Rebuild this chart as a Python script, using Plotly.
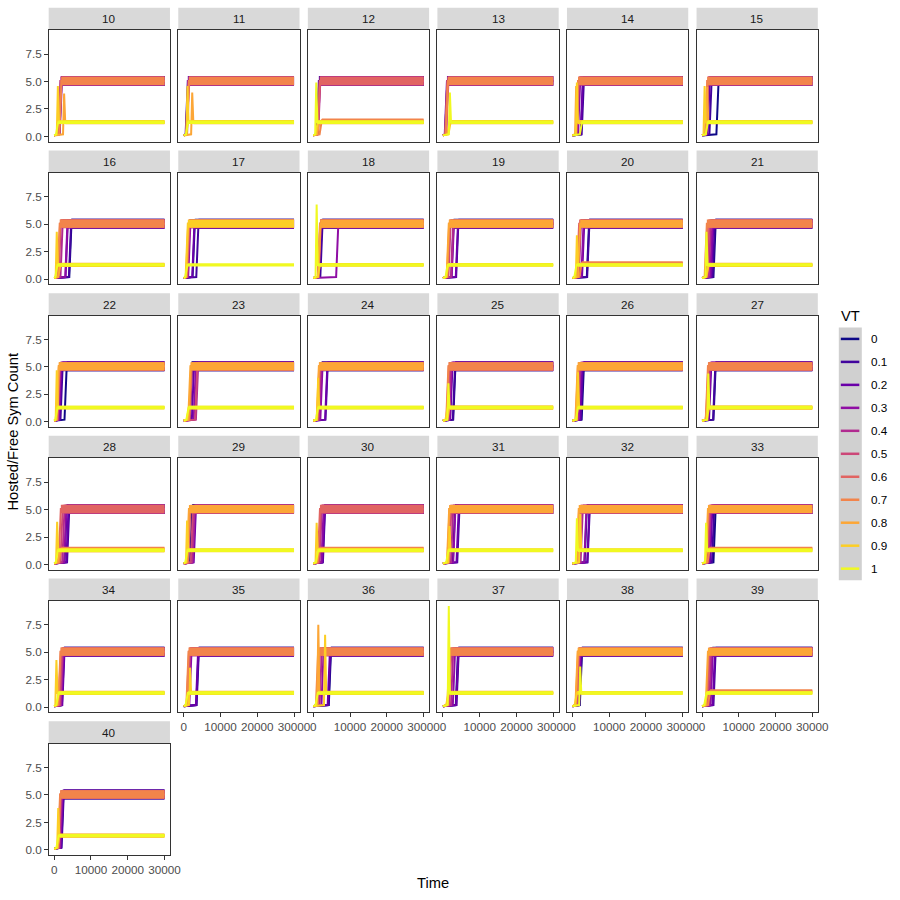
import plotly.graph_objects as go

# ---------------- data ----------------
SEEDS = list(range(10, 41))
VT = [0.0, 0.1, 0.2, 0.3, 0.4, 0.5, 0.6, 0.7, 0.8, 0.9, 1.0]
VT_LABELS = ["0", "0.1", "0.2", "0.3", "0.4", "0.5", "0.6", "0.7", "0.8", "0.9", "1"]
VT_COLORS = ["#0D0887", "#41049D", "#6A00A8", "#8F0DA4", "#B12A90", "#CC4778",
             "#E16462", "#F2844B", "#FCA636", "#FCCE25", "#F0F921"]

TIME_END = 30000
START_LEVEL = 0.1
PRE_RISE_LEVEL = 0.2
LEVELS = {"H": 5.05, "M": 1.48, "L": 1.3}

# time at which each VT line jumps to its plateau (per seed, VT 0 .. 1)
RISE_TIMES = [
    [1700, 1600, 1500, 1800, 1400, 1600, 1500, 1700, 2700, 1000, 800],   # 10
    [900, 800, 1000, 900, 1100, 1000, 1200, 1100, 2300, 1000, 900],      # 11
    [1300, 1200, 1400, 1500, 1600, 1400, 1500, 2000, 1300, 900, 800],    # 12
    [1000, 900, 800, 1100, 1000, 1200, 900, 1100, 1500, 1800, 1900],     # 13
    [2600, 2800, 2500, 1800, 1500, 1400, 1300, 1200, 1000, 1200, 2300],  # 14
    [4200, 2300, 1800, 1500, 1400, 1200, 1300, 1100, 1400, 700, 1300],   # 15
    [4400, 4300, 3400, 3300, 2000, 1500, 1300, 1200, 1400, 700, 600],    # 16
    [2700, 3700, 2600, 1500, 1300, 1200, 1100, 1000, 900, 800, 700],     # 17
    [2000, 2200, 1800, 6500, 1700, 1600, 1500, 1700, 1600, 1500, 900],   # 18
    [2600, 3900, 3800, 2700, 2500, 1800, 1500, 1400, 1300, 1200, 1000],  # 19
    [4200, 4300, 2900, 2700, 2000, 1800, 1500, 2200, 1800, 1200, 800],   # 20
    [3400, 3200, 2800, 2500, 2100, 1700, 1300, 1000, 1500, 1400, 1200],  # 21
    [3100, 2000, 1700, 1500, 1300, 1200, 1100, 1000, 900, 700, 600],     # 22
    [1800, 2000, 2500, 3000, 3600, 3400, 1900, 1700, 1500, 1100, 1000],  # 23
    [2000, 3600, 3500, 2200, 1800, 1500, 1400, 1300, 1200, 1300, 1000],  # 24
    [3100, 3000, 2300, 2100, 1900, 1500, 1300, 1200, 1500, 1000, 1500],  # 25
    [2800, 2600, 2400, 2000, 1800, 1500, 1300, 1200, 1100, 1500, 1200],  # 26
    [3400, 3300, 2200, 2000, 1800, 1500, 1400, 1300, 1200, 1600, 1700],  # 27
    [3100, 3800, 3600, 3000, 2500, 2000, 1500, 1600, 1200, 800, 700],    # 28
    [2000, 2500, 3000, 2800, 2600, 2200, 1500, 1300, 1100, 900, 700],    # 29
    [2700, 2900, 2800, 2500, 2000, 1800, 1500, 1400, 1100, 900, 1000],   # 30
    [3000, 4200, 4000, 3100, 2500, 2000, 1600, 1500, 1400, 1800, 1200],  # 31
    [3600, 4400, 4300, 3500, 2500, 2000, 1800, 1500, 1400, 2100, 1200],  # 32
    [3400, 3000, 2500, 2200, 2000, 1700, 1500, 1800, 1300, 1000, 1100],  # 33
    [2400, 2300, 2500, 2200, 2000, 1800, 1500, 1400, 1000, 600, 900],    # 34
    [3700, 3800, 3600, 1800, 1500, 1300, 1100, 1000, 1200, 1700, 800],   # 35
    [4500, 4400, 4200, 2500, 2000, 1500, 1200, 1000, 1350, 3200, 900],   # 36
    [3800, 4000, 3900, 3000, 2500, 2000, 1700, 1500, 1300, 1200, 1600],  # 37
    [2300, 2200, 2000, 1800, 1600, 1500, 1300, 1200, 1100, 900, 2100],   # 38
    [2500, 3400, 3200, 2600, 2200, 1800, 1500, 1900, 1300, 1100, 900],   # 39
    [2200, 2300, 2100, 1900, 1700, 1500, 1400, 1300, 1200, 1100, 900],   # 40
]

# plateau reached by each VT line: H ~5, M ~1.5, L ~1.3
PLATEAU_CODES = [
    "HHHHHHHHLLL", "HHHHHHHHLLL", "HHHHHHHMLLL", "HHHHHHHHLLL", "HHHHHHHHLLL", "HHHHHHHHLLL",
    "HHHHHHHHLLL", "HHHHHHHHHHL", "HHHHHHHHHLL", "HHHHHHHHHLL", "HHHHHHHMHLL", "HHHHHHHHLLL",
    "HHHHHHHHHLL", "HHHHHHHHHLL", "HHHHHHHHHLL", "HHHHHHHHLLL", "HHHHHHHHHLL", "HHHHHHHHLLL",
    "HHHHHHHMLLL", "HHHHHHHHHLL", "HHHHHHHMLLL", "HHHHHHHHHLL", "HHHHHHHHHLL", "HHHHHHHMHLL",
    "HHHHHHHHLLL", "HHHHHHHHLLL", "HHHHHHHHLLL", "HHHHHHHHLLL", "HHHHHHHHHLL", "HHHHHHHMHLL",
    "HHHHHHHHLLL",
]

# transient overshoots at the jump
SPIKE_SEEDS = [10, 10, 11, 11, 12, 13, 14, 14, 15, 15, 16, 18, 20, 21, 22, 24, 25, 26, 27,
               28, 29, 30, 31, 32, 32, 33, 34, 35, 36, 36, 37, 38, 40]
SPIKE_VT = [0.9, 0.8, 0.9, 0.8, 1.0, 1.0, 0.8, 0.9, 0.9, 0.8, 0.9, 1.0, 0.9, 1.0, 0.9, 0.9, 1.0,
            0.9, 1.0, 0.9, 0.9, 0.9, 0.9, 0.9, 1.0, 1.0, 0.9, 0.9, 0.8, 0.9, 1.0, 1.0, 0.9]
SPIKE_PEAKS = [4.6, 3.9, 4.6, 4.0, 4.9, 4.0, 4.6, 4.9, 4.6, 4.5, 4.3, 6.8, 4.0, 4.3, 4.7, 4.0, 3.5,
               4.5, 4.4, 3.9, 4.0, 3.8, 3.5, 4.6, 4.2, 3.8, 4.3, 3.6, 7.5, 6.6, 9.2, 3.7, 3.8]

X_TICKS = [0, 10000, 20000, 30000]
X_TICK_LABELS = ["0", "10000", "20000", "30000"]
Y_TICKS = [0, 2.5, 5, 7.5]
Y_TICK_LABELS = ["0.0", "2.5", "5.0", "7.5"]
X_RANGE = [-1500, 31500]
Y_RANGE = [-0.46, 9.66]

# ---------------- geometry (pixels) ----------------
FIG = 900
FIG_W_EFF = 889.2   # rendered horizontal extent of the paper
NCOL = 6
PANEL_LEFT0, COL_PITCH, PANEL_W = 48.7, 129.6, 121.3
PANEL_TOP0, ROW_PITCH, PANEL_H = 30.3, 142.85, 111.4
STRIP_H = 22.5
RAMP = 300
FONT = "Liberation Sans, Arial, sans-serif"


def px(x):
    return x / FIG_W_EFF


def py(y):
    return 1 - y / FIG


spikes = {(s, v): pk for s, v, pk in zip(SPIKE_SEEDS, SPIKE_VT, SPIKE_PEAKS)}

fig = go.Figure()
shapes = []
annotations = []
layout_axes = {}

for p, seed in enumerate(SEEDS):
    row, col = divmod(p, NCOL)
    n = p + 1
    xref = "x" if n == 1 else f"x{n}"
    yref = "y" if n == 1 else f"y{n}"
    L = PANEL_LEFT0 + col * COL_PITCH
    T = PANEL_TOP0 + row * ROW_PITCH
    codes = PLATEAU_CODES[p]

    for i, vt in enumerate(VT):
        r = RISE_TIMES[p][i]
        level = LEVELS[codes[i]]
        peak = spikes.get((seed, vt))
        if peak is not None:
            xs = [0, r - RAMP, r, r + RAMP, TIME_END]
            ys = [START_LEVEL, PRE_RISE_LEVEL, peak, level, level]
        else:
            xs = [0, r - RAMP, r + RAMP, TIME_END]
            ys = [START_LEVEL, PRE_RISE_LEVEL, level, level]
        if codes[i] == "H":
            w = 10.0 - 0.25 * i
        elif codes[i] == "M":
            w = 3.2
        else:
            w = 4.2 - 0.4 * max(0, i - 8)
        fig.add_trace(go.Scatter(x=[r + RAMP, TIME_END], y=[level, level], mode="lines",
                                 line=dict(color=VT_COLORS[i], width=w),
                                 xaxis=xref, yaxis=yref, showlegend=False, hoverinfo="skip"))
        fig.add_trace(go.Scatter(x=xs, y=ys, mode="lines",
                                 line=dict(color=VT_COLORS[i], width=2),
                                 xaxis=xref, yaxis=yref, showlegend=False, name=VT_LABELS[i]))

    show_x = (row == 4 and col >= 1) or row == 5
    show_y = col == 0
    common = dict(showline=True, mirror=True, linecolor="#333333", linewidth=1,
                  showgrid=False, zeroline=False, ticklen=3.7, tickwidth=1,
                  tickcolor="#333333",
                  tickfont=dict(size=11.7, color="#4D4D4D", family=FONT))
    xkey = "xaxis" if n == 1 else f"xaxis{n}"
    ykey = "yaxis" if n == 1 else f"yaxis{n}"
    layout_axes[xkey] = dict(common, domain=[px(L), px(L + PANEL_W)], range=X_RANGE,
                             anchor=yref, tickvals=X_TICKS, ticktext=X_TICK_LABELS,
                             ticks="outside" if show_x else "", showticklabels=show_x)
    layout_axes[ykey] = dict(common, domain=[py(T + PANEL_H), py(T)], range=Y_RANGE,
                             anchor=xref, tickvals=Y_TICKS, ticktext=Y_TICK_LABELS,
                             ticks="outside" if show_y else "", showticklabels=show_y)

    # strip
    shapes.append(dict(type="rect", xref="paper", yref="paper",
                       x0=px(L), x1=px(L + PANEL_W), y0=py(T - 0.6), y1=py(T - STRIP_H),
                       fillcolor="#D9D9D9", line=dict(width=0), layer="below"))
    annotations.append(dict(xref="paper", yref="paper", x=px(L + PANEL_W / 2),
                            y=py(T - STRIP_H / 2 - 0.3), text=str(seed), showarrow=False,
                            xanchor="center", yanchor="middle",
                            font=dict(size=11.7, color="#1A1A1A", family=FONT)))

# axis titles
annotations.append(dict(xref="paper", yref="paper", x=px(433), y=py(884), text="Time",
                        showarrow=False, xanchor="center", yanchor="middle",
                        font=dict(size=14.7, color="#000000", family=FONT)))
annotations.append(dict(xref="paper", yref="paper", x=px(13), y=py(432),
                        text="Hosted/Free Sym Count", textangle=-90, showarrow=False,
                        xanchor="center", yanchor="middle",
                        font=dict(size=14.7, color="#000000", family=FONT)))

# legend (drawn manually, ggplot style)
LEG_X0, LEG_X1 = 839, 862
LEG_Y0, LEG_STEP = 339.3, 23.0
annotations.append(dict(xref="paper", yref="paper", x=px(839), y=py(316), text="VT",
                        showarrow=False, xanchor="left", yanchor="middle",
                        font=dict(size=14.7, color="#000000", family=FONT)))
shapes.append(dict(type="rect", xref="paper", yref="paper", x0=px(LEG_X0), x1=px(LEG_X1),
                   y0=py(LEG_Y0 - LEG_STEP / 2), y1=py(LEG_Y0 + LEG_STEP * 10.5),
                   fillcolor="#D0D0D0", line=dict(width=0)))
for i, lab in enumerate(VT_LABELS):
    yy = LEG_Y0 + LEG_STEP * i
    shapes.append(dict(type="line", xref="paper", yref="paper", x0=px(841), x1=px(859.5),
                       y0=py(yy), y1=py(yy), line=dict(color=VT_COLORS[i], width=2.5)))
    annotations.append(dict(xref="paper", yref="paper", x=px(869), y=py(yy), text=lab,
                            showarrow=False, xanchor="left", yanchor="middle",
                            font=dict(size=11.7, color="#000000", family=FONT)))

fig.update_layout(width=FIG, height=FIG, autosize=False,
                  margin=dict(l=0, r=0, t=0, b=0),
                  paper_bgcolor="white", plot_bgcolor="white",
                  showlegend=False, shapes=shapes, annotations=annotations,
                  font=dict(family=FONT), **layout_axes)

fig.write_html("out.html")
